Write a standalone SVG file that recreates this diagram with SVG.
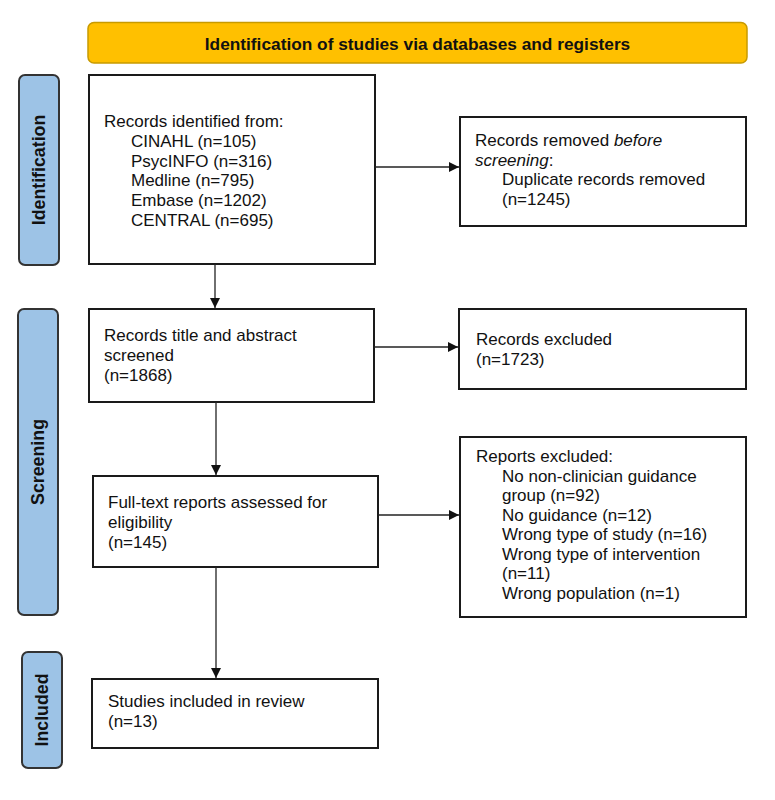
<svg xmlns="http://www.w3.org/2000/svg" width="775" height="800" viewBox="0 0 775 800">
<defs>
<marker id="ah" viewBox="0 0 10 10" refX="10" refY="5" markerWidth="10" markerHeight="10" markerUnits="userSpaceOnUse" orient="auto">
<path d="M0,0 L10,5 L0,10 Z" fill="#111"/>
</marker>
<style>
.box{fill:#fff;stroke:#1a1a1a;stroke-width:2}
.side{fill:#9dc3e6;stroke:#333;stroke-width:2}
.hdr{fill:#ffc000;stroke:#c89a00;stroke-width:1.5}
.t{font-family:"Liberation Sans",Arial,sans-serif;font-size:17px;fill:#111}
.b{font-family:"Liberation Sans",Arial,sans-serif;font-size:17.3px;font-weight:bold;fill:#111}
.sl{font-family:"Liberation Sans",Arial,sans-serif;font-size:17.8px;font-weight:bold;fill:#111}
.c{fill:none;stroke:#222;stroke-width:1.3}
</style>
</defs>
<rect width="775" height="800" fill="#fff"/>
<g id="header">
<rect class="hdr" x="88" y="22.5" width="659" height="40.5" rx="6"/>
<text class="b" x="417.5" y="49.5" text-anchor="middle">Identification of studies via databases and registers</text>
</g>
<g id="label-identification">
<rect class="side" x="19" y="75" width="40" height="190" rx="6"/>
<text class="sl" transform="translate(39,170) rotate(-90)" text-anchor="middle" dominant-baseline="central">Identification</text>
</g>
<g id="label-screening">
<rect class="side" x="18" y="309" width="40" height="306" rx="6"/>
<text class="sl" transform="translate(38,462) rotate(-90)" text-anchor="middle" dominant-baseline="central">Screening</text>
</g>
<g id="label-included">
<rect class="side" x="22" y="652" width="40" height="116" rx="6"/>
<text class="sl" transform="translate(42,710) rotate(-90)" text-anchor="middle" dominant-baseline="central">Included</text>
</g>
<g id="records-identified">
<rect class="box" x="89" y="75" width="286" height="189"/>
<text class="t" x="104" y="127">Records identified from:</text>
<text class="t" x="131" y="146.8">CINAHL (n=105)</text>
<text class="t" x="131" y="166.6">PsycINFO (n=316)</text>
<text class="t" x="131" y="186.4">Medline (n=795)</text>
<text class="t" x="131" y="206.2">Embase (n=1202)</text>
<text class="t" x="131" y="226">CENTRAL (n=695)</text>
</g>
<g id="records-removed">
<rect class="box" x="460" y="117" width="286" height="109"/>
<text class="t" x="475" y="146">Records removed <tspan font-style="italic">before</tspan></text>
<text class="t" x="475" y="165.5"><tspan font-style="italic">screening</tspan>:</text>
<text class="t" x="502" y="185">Duplicate records removed</text>
<text class="t" x="502" y="204.5">(n=1245)</text>
</g>
<g id="records-screened">
<rect class="box" x="89" y="309" width="285" height="93"/>
<text class="t" x="104" y="341">Records title and abstract</text>
<text class="t" x="104" y="361">screened</text>
<text class="t" x="104" y="381">(n=1868)</text>
</g>
<g id="records-excluded">
<rect class="box" x="459" y="309" width="287" height="80"/>
<text class="t" x="476" y="345">Records excluded</text>
<text class="t" x="476" y="365">(n=1723)</text>
</g>
<g id="fulltext-assessed">
<rect class="box" x="93" y="476" width="285" height="91"/>
<text class="t" x="108" y="508">Full-text reports assessed for</text>
<text class="t" x="108" y="528">eligibility</text>
<text class="t" x="108" y="548">(n=145)</text>
</g>
<g id="reports-excluded">
<rect class="box" x="460" y="437" width="286" height="180"/>
<text class="t" x="476" y="462">Reports excluded:</text>
<text class="t" x="502" y="481.5">No non-clinician guidance</text>
<text class="t" x="502" y="501">group (n=92)</text>
<text class="t" x="502" y="520.5">No guidance (n=12)</text>
<text class="t" x="502" y="540">Wrong type of study (n=16)</text>
<text class="t" x="502" y="559.5">Wrong type of intervention</text>
<text class="t" x="502" y="579">(n=11)</text>
<text class="t" x="502" y="598.5">Wrong population (n=1)</text>
</g>
<g id="studies-included">
<rect class="box" x="92" y="679" width="286" height="69"/>
<text class="t" x="108" y="707">Studies included in review</text>
<text class="t" x="108" y="727">(n=13)</text>
</g>
<g id="connectors">
<line class="c" x1="215" y1="264" x2="215" y2="308" marker-end="url(#ah)"/>
<line class="c" x1="375" y1="167" x2="459" y2="167" marker-end="url(#ah)"/>
<line class="c" x1="374" y1="347" x2="458" y2="347" marker-end="url(#ah)"/>
<line class="c" x1="216" y1="402" x2="216" y2="475" marker-end="url(#ah)"/>
<line class="c" x1="378" y1="515" x2="459" y2="515" marker-end="url(#ah)"/>
<line class="c" x1="216" y1="567" x2="216" y2="678" marker-end="url(#ah)"/>
</g>
</svg>
